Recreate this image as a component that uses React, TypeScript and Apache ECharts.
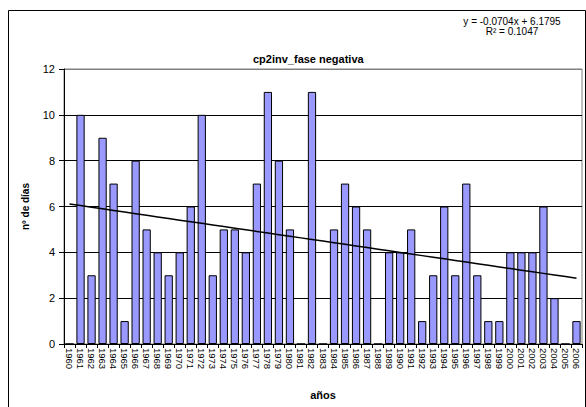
import React, { useEffect, useRef } from "react";
import * as echarts from "echarts";

const years: string[] = [
  "1960","1961","1962","1963","1964","1965","1966","1967","1968","1969",
  "1970","1971","1972","1973","1974","1975","1976","1977","1978","1979",
  "1980","1981","1982","1983","1984","1985","1986","1987","1988","1989",
  "1990","1991","1992","1993","1994","1995","1996","1997","1998","1999",
  "2000","2001","2002","2003","2004","2005","2006",
];

const days: number[] = [
  0, 10, 3, 9, 7, 1, 8, 5, 4, 3,
  4, 6, 10, 3, 5, 5, 4, 7, 11, 8,
  5, 0, 11, 0, 5, 7, 6, 5, 0, 4,
  4, 5, 1, 3, 6, 3, 7, 3, 1, 1,
  4, 4, 4, 6, 2, 0, 1,
];

// Trendline shown in the chart: y = -0.0704x + 6.1795, R² = 0.1047
const trendSlope = -0.0704;
const trendIntercept = 6.1795;
const trendLabel = "y = -0.0704x + 6.1795";
const r2Label = "R² = 0.1047";

const yTicks = [0, 2, 4, 6, 8, 10, 12];

export default function App() {
  const ref = useRef<HTMLDivElement>(null);

  useEffect(() => {
    if (!ref.current) return;
    const chart = echarts.init(ref.current, undefined, { renderer: "svg" });
    const trend = years.map((_, i) => +(trendSlope * (i + 1) + trendIntercept).toFixed(4));
    const font = "Liberation Sans";
    chart.setOption({
      animation: false,
      backgroundColor: "#fff",
      textStyle: { fontFamily: font },
      title: {
        text: "cp2inv_fase negativa",
        left: 248,
        top: 48,
        textStyle: { fontSize: 11, fontWeight: "bold", color: "#000", fontFamily: font },
      },
      grid: {
        left: 64,
        right: 4,
        top: 69,
        bottom: 63,
        show: true,
        borderColor: "#808080",
        borderWidth: 1,
        backgroundColor: "#fff",
      },
      xAxis: {
        type: "category",
        data: years,
        boundaryGap: true,
        name: "años",
        nameLocation: "middle",
        nameGap: 45,
        nameTextStyle: { fontSize: 11, fontWeight: "bold", color: "#000", fontFamily: font },
        axisLine: { show: true, lineStyle: { color: "#000", width: 1 } },
        axisTick: { show: true, alignWithLabel: false, length: 4, lineStyle: { color: "#000" } },
        axisLabel: {
          interval: 0,
          rotate: -90,
          fontSize: 9.5,
          color: "#000",
          margin: 4,
          fontFamily: font,
        },
        splitLine: { show: false },
      },
      yAxis: {
        type: "value",
        min: 0,
        max: 12,
        interval: 2,
        name: "nº de días",
        nameLocation: "middle",
        nameGap: 34,
        nameTextStyle: { fontSize: 10, fontWeight: "bold", color: "#000", fontFamily: font },
        axisLine: { show: true, lineStyle: { color: "#000", width: 1 } },
        axisTick: { show: true, length: 5, lineStyle: { color: "#000" } },
        axisLabel: { fontSize: 11, color: "#000", margin: 9, fontFamily: font },
        splitLine: {
          show: true,
          lineStyle: {
            color: yTicks.map((v) => (v === 12 ? "#808080" : "#000")),
            width: 1,
          },
        },
      },
      series: [
        {
          type: "bar",
          data: days,
          barCategoryGap: "25%",
          itemStyle: { color: "#9999FF", borderColor: "#000", borderWidth: 1 },
          z: 2,
        },
        {
          type: "line",
          data: trend,
          symbol: "none",
          lineStyle: { color: "#000", width: 1.5 },
          z: 3,
        },
      ],
      graphic: [
        {
          type: "rect",
          shape: { x: 8.5, y: 10.5, width: 577, height: 420 },
          style: { fill: "none", stroke: "#000", lineWidth: 1 },
          silent: true,
        },
        {
          type: "text",
          x: 512,
          y: 21,
          style: {
            text: trendLabel,
            fontSize: 10,
            fill: "#000",
            textAlign: "center",
            textVerticalAlign: "middle",
            fontFamily: font,
          },
        },
        {
          type: "text",
          x: 512,
          y: 31,
          style: {
            text: r2Label,
            fontSize: 10,
            fill: "#000",
            textAlign: "center",
            textVerticalAlign: "middle",
            fontFamily: font,
          },
        },
      ],
    });
    return () => chart.dispose();
  }, []);

  return (
    <div
      ref={ref}
      style={{ position: "fixed", left: 0, top: 0, width: 586, height: 407 }}
    />
  );
}
